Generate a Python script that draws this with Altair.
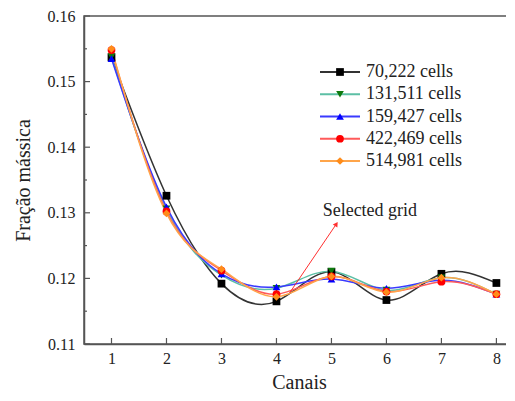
import altair as alt
import pandas as pd

series = ["70,222 cells", "131,511 cells", "159,427 cells", "422,469 cells", "514,981 cells"]
canais = [1, 2, 3, 4, 5, 6, 7, 8]
v70 = [0.1537, 0.1326, 0.1192, 0.1165, 0.1210, 0.1167, 0.1207, 0.1193]
v131 = [0.1538, 0.1306, 0.1205, 0.1185, 0.1211, 0.1182, 0.1201, 0.1176]
v159 = [0.1535, 0.1309, 0.1207, 0.1187, 0.1199, 0.1185, 0.1197, 0.1176]
v422 = [0.1548, 0.1302, 0.1212, 0.1176, 0.1203, 0.1180, 0.1195, 0.1176]
v514 = [0.1550, 0.1299, 0.1214, 0.1172, 0.1203, 0.1179, 0.1201, 0.1176]
shapes = ["square", "triangle-down", "triangle-up", "circle", "diamond"]
line_colors = ["#333333", "#5cbfa5", "#3a3aff", "#ff5a5a", "#ffa54a"]
marker_colors = ["#000000", "#0e7a0e", "#0000ff", "#ff0000", "#ff8c1a"]

y_major = [0.11, 0.12, 0.13, 0.14, 0.15, 0.16]
y_minor = [0.115, 0.125, 0.135, 0.145, 0.155]
annot_text = ["Selected grid"]
annot_xy = [4.84, 0.1303]
arrow_from = [4.24, 0.1178]
arrow_to = [5.09, 0.1283]

rows = []
for name, vals in zip(series, [v70, v131, v159, v422, v514]):
    for c, v in zip(canais, vals):
        rows.append({"series": name, "canal": c, "value": v})
df = pd.DataFrame(rows)

FONT = "Liberation Serif"
W, H = 430, 328
xscale = alt.Scale(domain=[0.5, 8.32], nice=False, zero=False)
yscale = alt.Scale(domain=[0.11, 0.16], nice=False, zero=False)
x_axis = alt.Axis(title="Canais", values=canais, format="d", ticks=False,
                  labelPadding=6, titlePadding=6)

stroke_enc = alt.Stroke("series:N", scale=alt.Scale(domain=series, range=line_colors), legend=None)
fill_enc = alt.Fill("series:N", scale=alt.Scale(domain=series, range=marker_colors), legend=None)
shape_enc = alt.Shape("series:N", scale=alt.Scale(domain=series, range=shapes), legend=None)


def X(field):
    return alt.X(field, scale=xscale, axis=x_axis)


def Y(field):
    return alt.Y(field, scale=yscale, axis=None)


base = alt.Chart(df)
lines = base.mark_line(interpolate="natural", strokeWidth=1.5).encode(
    x=X("canal:Q"),
    y=alt.Y("value:Q", scale=yscale,
            axis=alt.Axis(title="Fração mássica", values=y_major, format=".2f", ticks=False,
                          labelPadding=9, titlePadding=14)),
    stroke=stroke_enc,
    order=alt.Order("canal:Q"),
)
points = base.mark_point(filled=True, size=60, opacity=1, strokeWidth=0).encode(
    x=X("canal:Q"), y=Y("value:Q"), fill=fill_enc, shape=shape_enc)

# inward ticks
ymaj = alt.Chart(pd.DataFrame({"t": y_major})).mark_rule(color="#555", strokeWidth=1.2).encode(
    y=Y("t:Q"), x=alt.value(0), x2=alt.value(6))
ymin = alt.Chart(pd.DataFrame({"t": y_minor})).mark_rule(color="#555", strokeWidth=1.2).encode(
    y=Y("t:Q"), x=alt.value(0), x2=alt.value(3))
xmaj = alt.Chart(pd.DataFrame({"canal": canais})).mark_rule(color="#555", strokeWidth=1.2).encode(
    x=X("canal:Q"), y=alt.value(H), y2=alt.value(H - 6))

# annotation
arrow_df = pd.DataFrame({"canal": [arrow_from[0]], "y": [arrow_from[1]],
                         "x2": [arrow_to[0]], "y2": [arrow_to[1]]})
arrow = alt.Chart(arrow_df).mark_rule(color="#ff3030", strokeWidth=1).encode(
    x=X("canal:Q"), y=Y("y:Q"), x2="x2:Q", y2="y2:Q")
head = alt.Chart(pd.DataFrame({"canal": [arrow_to[0]], "y": [arrow_to[1]]})).mark_point(
    shape="triangle-up", filled=True, color="#ff3030", size=30, angle=34, opacity=1).encode(
    x=X("canal:Q"), y=Y("y:Q"))
label = alt.Chart(pd.DataFrame({"canal": [annot_xy[0]], "y": [annot_xy[1]], "t": annot_text})).mark_text(
    font=FONT, fontSize=18, align="left", baseline="middle", color="#222").encode(
    x=X("canal:Q"), y=Y("y:Q"), text="t:N")

# custom legend
leg_df = pd.DataFrame({"series": series})
leg_y = alt.Y("series:N", scale=alt.Scale(type="point", domain=series, range=[56, 145], padding=0),
              axis=None)
leg_line = alt.Chart(leg_df).mark_rule(strokeWidth=1.8).encode(
    y=leg_y, x=alt.value(236), x2=alt.value(276), stroke=stroke_enc)
leg_pt = alt.Chart(leg_df).mark_point(filled=True, size=60, opacity=1, strokeWidth=0).encode(
    y=leg_y, x=alt.value(256), fill=fill_enc, shape=shape_enc)
leg_txt = alt.Chart(leg_df).mark_text(font=FONT, fontSize=18, align="left", baseline="middle",
                                      color="#222").encode(
    y=leg_y, x=alt.value(282), text="series:N")

chart = alt.layer(
    lines, points, ymaj, ymin, xmaj, arrow, head, label, leg_line, leg_pt, leg_txt
).resolve_scale(y="independent").properties(
    width=W, height=H,
    autosize=alt.AutoSizeParams(type="none"),
    padding={"left": 76, "top": 8, "right": -8, "bottom": 49},
    background="white",
).configure_view(
    stroke="#555", strokeWidth=1.5
).configure_axis(
    grid=False, domainColor="#555", domainWidth=1.5,
    labelFont=FONT, labelFontSize=16, labelColor="#222",
    titleFont=FONT, titleFontSize=20, titleFontWeight="normal", titleColor="#222",
)

chart.save("out.html", embed_options={"renderer": "svg", "actions": False})
